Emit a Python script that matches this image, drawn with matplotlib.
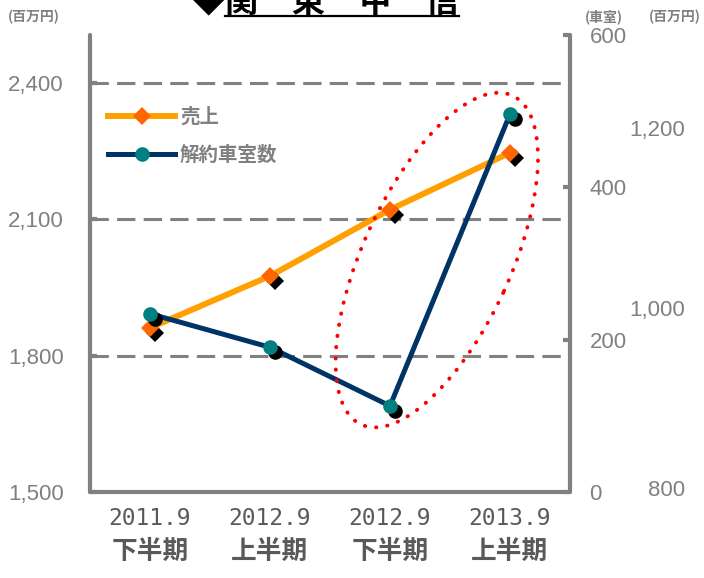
import matplotlib
matplotlib.use('Agg')
import matplotlib.pyplot as plt
from matplotlib.patches import Ellipse
from matplotlib.lines import Line2D
from matplotlib.ticker import FuncFormatter
from matplotlib.transforms import ScaledTranslation, blended_transform_factory

# Datos
periodos = ['2011.9', '2012.9', '2012.9', '2013.9']
mitades = ['下半期', '上半期', '下半期', '上半期']
ventas = [1861, 1975, 2121, 2246]          # 売上 (百万円)
cancelaciones = [234, 190, 113, 496]       # 解約車室数 (車室)

ticks_izq = [1500, 1800, 2100, 2400]
ticks_der = [0, 200, 400, 600]
ticks_ext = [800, 1000, 1200]

GRIS = '#808080'
CJK = ['Noto Sans CJK JP', 'DejaVu Sans']
NUM = ['Liberation Sans Narrow', 'Liberation Sans', 'DejaVu Sans']

plt.rcParams['font.family'] = NUM

fig = plt.figure(figsize=(7.04, 5.78), dpi=100)
ax = fig.add_axes([90 / 704, 1 - 492 / 578, 480 / 704, 457 / 578])
ax2 = ax.twinx()
ax3 = ax.twinx()

x = list(range(len(ventas)))
ax.set_xlim(-0.5, len(ventas) - 0.5)
ax.set_ylim(1500, 2505)
ax2.set_ylim(0, 600)
ax3.set_ylim(795.6, 1303)

# sombra negra de los marcadores
sombra = ax.transData + ScaledTranslation(5 / 100, -5 / 100, fig.dpi_scale_trans)
sombra2 = ax2.transData + ScaledTranslation(5 / 100, -5 / 100, fig.dpi_scale_trans)

ax.plot(x, ventas, color='#FFA000', lw=4.3, zorder=2)
ax.plot(x, ventas, ls='none', marker='D', ms=9, mew=0, color='black', transform=sombra, zorder=3)
ax.plot(x, ventas, ls='none', marker='D', ms=9, mew=0, color='#FF6600', zorder=4)

ax2.plot(x, cancelaciones, color='#003366', lw=3.6, zorder=2)
ax2.plot(x, cancelaciones, ls='none', marker='o', ms=10.5, mew=0, color='black', transform=sombra2, zorder=3)
ax2.plot(x, cancelaciones, ls='none', marker='o', ms=10.5, mew=0, color='#008080', zorder=4)

# lineas de guia discontinuas
ax.set_yticks(ticks_izq)
ax.grid(axis='y', color=GRIS, lw=2.2, linestyle=(0, (6, 2.7)))
ax.set_axisbelow(True)

fmt = FuncFormatter(lambda v, p: f'{v:,.0f}')
ax.yaxis.set_major_formatter(fmt)
ax3.yaxis.set_major_formatter(fmt)
ax2.set_yticks(ticks_der)
ax3.set_yticks(ticks_ext)

for s in ['top', 'right']:
    ax.spines[s].set_visible(False)
for s in ['top', 'left', 'bottom']:
    ax2.spines[s].set_visible(False)
for s in ax3.spines.values():
    s.set_visible(False)
for sp in [ax.spines['left'], ax.spines['bottom'], ax2.spines['right']]:
    sp.set_color(GRIS)
    sp.set_linewidth(3)
    sp.set_capstyle('round')

ax.tick_params(axis='y', direction='in', length=5, width=3, color=GRIS,
               labelcolor=GRIS, labelsize=16, pad=19)
ax2.tick_params(axis='y', direction='in', length=5, width=3, color=GRIS,
                labelcolor=GRIS, labelsize=16, pad=14)
ax3.tick_params(axis='y', length=0, labelcolor=GRIS, labelsize=16, pad=83)
for lbl in ax3.get_yticklabels():
    lbl.set_horizontalalignment('right')

# etiquetas del eje x en dos lineas
ax.set_xticks(x)
ax.set_xticklabels(periodos, fontfamily='DejaVu Sans Mono', fontsize=16.5, color='#595959')
ax.tick_params(axis='x', length=0, pad=11)
trans = blended_transform_factory(ax.transData, ax.transAxes)
for i, m in zip(x, mitades):
    ax.text(i, -0.131, m, transform=trans, ha='center', va='center', fontsize=18.5,
            fontweight='bold', color='#595959', family=CJK)

# leyenda
handles = [
    Line2D([], [], color='#FFA000', lw=4.3, marker='D', ms=9, mew=0, mfc='#FF6600'),
    Line2D([], [], color='#003366', lw=3.6, marker='o', ms=10.5, mew=0, mfc='#008080'),
]
ax3.legend(handles, ['売上', '解約車室数'], loc='upper left', bbox_to_anchor=(0.0375, 0.842),
           frameon=False, borderaxespad=0, borderpad=0, handlelength=3.45,
           handletextpad=0.25, labelspacing=1.0, labelcolor=GRIS,
           prop={'family': CJK, 'weight': 'bold', 'size': 14})

# elipse punteada roja
centro = ScaledTranslation(2.39, 2010, ax.transData)
elipse = Ellipse((0, 0), 3.62, 1.48, angle=65.3, transform=fig.dpi_scale_trans + centro,
                 fill=False, edgecolor='red', lw=2.8, linestyle=(0, (0.1, 2.8)),
                 capstyle='round', zorder=10)
ax3.add_patch(elipse)

# unidades
y_uni = 1 - 17 / 578
fig.text(8 / 704, y_uni, '(百万円)', va='center', fontsize=10, fontweight='bold',
         color=GRIS, family=CJK)
fig.text(585 / 704, y_uni, '(車室)', va='center', fontsize=10, fontweight='bold',
         color=GRIS, family=CJK)
fig.text(701 / 704, y_uni, '(百万円)', va='center', ha='right', fontsize=10,
         fontweight='bold', color=GRIS, family=CJK)

# titulo (cortado arriba) con subrayado
y_tit = 1 - 12 / 578
titulo = fig.text(225 / 704, y_tit, '関　東　甲　信', ha='left', va='baseline', fontsize=24,
                  fontweight='bold', color='black', family=CJK)
fig.text(225 / 704, y_tit, '◆', ha='right', va='baseline', fontsize=24,
         fontweight='bold', color='black', family=CJK)
fig.canvas.draw()
bb = titulo.get_window_extent(fig.canvas.get_renderer())
y_sub = 1 - 16 / 578
fig.add_artist(Line2D([bb.x0 / 704, bb.x1 / 704], [y_sub, y_sub], transform=fig.transFigure,
                      color='black', lw=1.6))

plt.savefig('out.png', dpi=100)
